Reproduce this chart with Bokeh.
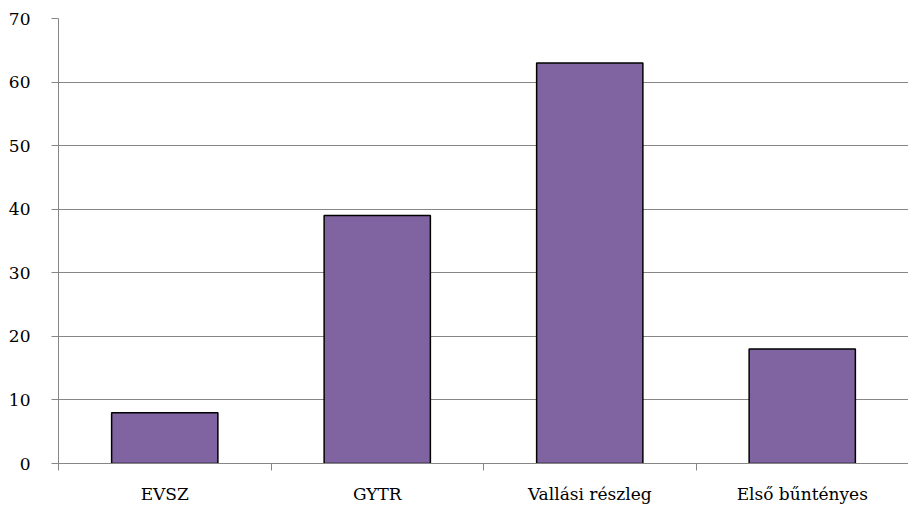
from bokeh.plotting import figure
from bokeh.models import Range1d, LinearAxis, FixedTicker
from bokeh.embed import file_html
from bokeh.resources import INLINE

categories = ["EVSZ", "GYTR", "Vallási részleg", "Első bűntényes"]
values = [8, 39, 63, 18]
y_ticks = [0, 10, 20, 30, 40, 50, 60, 70]

FONT = "DejaVu Serif"
GREY = "#868686"

n = len(categories)
centers = [i + 0.5 for i in range(n)]
bounds = list(range(n + 1))

p = figure(x_range=Range1d(0, n), y_range=Range1d(0, 70),
           frame_width=850, frame_height=445,
           output_backend="svg", toolbar_location=None, x_axis_location=None,
           min_border_left=58, min_border_right=0, min_border_top=18, min_border_bottom=0)
p.outline_line_color = None

p.vbar(x=centers, top=values, width=0.5, bottom=0,
       fill_color="#8064A2", line_color="black", line_width=1.5)

# y axis
ya = p.yaxis[0]
ya.ticker = FixedTicker(ticks=y_ticks)
ya.axis_line_color = GREY
ya.major_tick_line_color = GREY
ya.major_tick_out = 7
ya.major_tick_in = 0
ya.minor_tick_line_color = None
ya.major_label_text_font = FONT
ya.major_label_text_font_size = "17px"
ya.major_label_text_color = "black"
ya.major_label_standoff = 21

p.ygrid.ticker = FixedTicker(ticks=y_ticks)
p.ygrid.grid_line_color = GREY
p.xgrid.grid_line_color = None

# category axis: labels at centres, tick marks at category boundaries
cat_axis = LinearAxis(ticker=FixedTicker(ticks=centers, minor_ticks=bounds),
                      major_label_overrides={c: lab for c, lab in zip(centers, categories)},
                      axis_line_color=GREY,
                      major_tick_line_color=None, major_tick_out=0, major_tick_in=0,
                      minor_tick_line_color=GREY, minor_tick_out=7, minor_tick_in=0,
                      major_label_text_font=FONT, major_label_text_font_size="17px",
                      major_label_text_color="black", major_label_standoff=13)
p.add_layout(cat_axis, "below")

open("out.html", "w").write(file_html(p, INLINE))
